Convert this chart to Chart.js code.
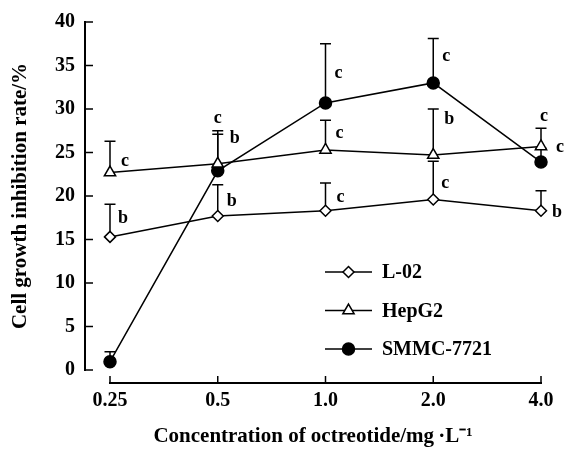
<!DOCTYPE html>
<html><head><meta charset="utf-8">
<script src="https://cdn.jsdelivr.net/npm/chart.js@4.4.0/dist/chart.umd.min.js"></script>
<style>html,body{margin:0;padding:0;background:#fff}#wrap{width:564px;height:450px}</style>
</head><body><div id="wrap"><canvas id="c" width="564" height="450"></canvas></div>
<script>
// ---- data ----
const categories = ['0.25', '0.5', '1.0', '2.0', '4.0'];
const seriesNames = ['L-02', 'HepG2', 'SMMC-7721'];
const l02Values = [15.3, 17.7, 18.3, 19.6, 18.3];
const l02ErrTop = [19.05, 21.3, 21.5, 24.0, 20.6];
const hepg2Values = [22.7, 23.7, 25.3, 24.7, 25.7];
const hepg2ErrTop = [26.3, 27.5, 28.7, 30.0, 27.8];
const smmcValues = [0.95, 22.9, 30.7, 33.0, 23.9];
const smmcErrTop = [2.1, 27.1, 37.5, 38.1, 25.5];
const l02Letters = ['b', 'b', 'c', 'c', 'b'];
const hepg2Letters = ['c', 'c', 'c', 'b', 'c'];
const smmcLetters = ['', 'b', 'c', 'c', 'c'];
const yTickValues = [0, 5, 10, 15, 20, 25, 30, 35, 40];
const xTitle = 'Concentration of octreotide/mg\u2009\u00B7L\u207B\u00B9';
const yTitle = 'Cell growth inhibition rate/%';

// ---- annotation placement (pixel dx, y in data units) ----
const l02LetterPos = [[13, 17.4], [14, 19.4], [15, 19.8], [12, 21.5], [16, 18.1]];
const hepg2LetterPos = [[15, 24.0], [0, 28.9], [14, 27.2], [16, 28.8], [19, 25.6]];
const smmcLetterPos = [null, [17, 26.6], [13, 34.1], [13, 36.0], [3, 29.1]];

const FONT = 'Liberation Serif';
const toPts = arr => arr.map((v, i) => ({x: i, y: v}));

const datasets = [
  {label: seriesNames[0], data: toPts(l02Values), errTop: l02ErrTop, letters: l02Letters, letterPos: l02LetterPos,
   pointStyle: 'rectRot', pointRadius: 5.5, backgroundColor: '#fff', pointBackgroundColor: '#fff'},
  {label: seriesNames[1], data: toPts(hepg2Values), errTop: hepg2ErrTop, letters: hepg2Letters, letterPos: hepg2LetterPos,
   pointStyle: 'triangle', pointRadius: 6.5, backgroundColor: '#fff', pointBackgroundColor: '#fff'},
  {label: seriesNames[2], data: toPts(smmcValues), errTop: smmcErrTop, letters: smmcLetters, letterPos: smmcLetterPos,
   pointStyle: 'circle', pointRadius: 6, backgroundColor: '#000', pointBackgroundColor: '#000'}
].map(d => Object.assign({
  borderColor: '#000', borderWidth: 1.5, pointBorderColor: '#000', pointBorderWidth: 1.5,
  pointHoverRadius: 6, tension: 0, fill: false, clip: false
}, d));

const errorPlugin = {
  id: 'errs',
  beforeDatasetsDraw(chart) {
    const {ctx, scales: {x, y}} = chart;
    ctx.save();
    ctx.strokeStyle = '#000'; ctx.lineWidth = 1.5;
    chart.data.datasets.forEach(ds => {
      ds.errTop.forEach((t, i) => {
        if (t == null) return;
        const px = x.getPixelForValue(i);
        const p0 = y.getPixelForValue(ds.data[i].y);
        const p1 = y.getPixelForValue(t);
        ctx.beginPath();
        ctx.moveTo(px, p0); ctx.lineTo(px, p1);
        ctx.moveTo(px - 5.5, p1); ctx.lineTo(px + 5.5, p1);
        ctx.stroke();
      });
    });
    ctx.restore();
  }
};

const axesPlugin = {
  id: 'axesDraw',
  beforeDatasetsDraw(chart) {
    const {ctx, chartArea, scales: {x, y}} = chart;
    ctx.save();
    ctx.strokeStyle = '#000';
    ctx.lineWidth = 2;
    const yl = chartArea.left;
    const yTop = y.getPixelForValue(yTickValues[yTickValues.length - 1]);
    const yBot = y.getPixelForValue(yTickValues[0]);
    ctx.beginPath(); ctx.moveTo(yl, yTop - 1); ctx.lineTo(yl, yBot + 1); ctx.stroke();
    ctx.lineWidth = 1.5;
    yTickValues.forEach(v => {
      const py = y.getPixelForValue(v);
      ctx.beginPath(); ctx.moveTo(yl, py); ctx.lineTo(yl + 8, py); ctx.stroke();
    });
    const y0 = chartArea.bottom + 13;
    const x0 = x.getPixelForValue(0), x1 = x.getPixelForValue(categories.length - 1);
    ctx.lineWidth = 2;
    ctx.beginPath(); ctx.moveTo(x0 - 1, y0); ctx.lineTo(x1 + 1, y0); ctx.stroke();
    ctx.lineWidth = 1.5;
    categories.forEach((c, i) => {
      const px = x.getPixelForValue(i);
      ctx.beginPath(); ctx.moveTo(px, y0); ctx.lineTo(px, y0 - 7); ctx.stroke();
    });
    ctx.restore();
  },
  afterDatasetsDraw(chart) {
    const {ctx, chartArea, scales: {x, y}} = chart;
    ctx.save();
    ctx.fillStyle = '#000';
    ctx.textAlign = 'center';
    ctx.textBaseline = 'middle';
    ctx.font = 'bold 18px "' + FONT + '"';
    chart.data.datasets.forEach(ds => {
      ds.letters.forEach((L, i) => {
        const pos = ds.letterPos[i];
        if (!L || !pos) return;
        ctx.fillText(L, x.getPixelForValue(i) + pos[0], y.getPixelForValue(pos[1]));
      });
    });
    const lx0 = chartArea.left + 240, lx1 = lx0 + 47, mx = (lx0 + lx1) / 2;
    const ly0 = chartArea.top + 250;
    ctx.textAlign = 'left';
    ctx.font = 'bold 20px "' + FONT + '"';
    chart.data.datasets.forEach((ds, k) => {
      const ly = ly0 + k * 38.5;
      ctx.strokeStyle = '#000'; ctx.lineWidth = 1.5;
      ctx.beginPath(); ctx.moveTo(lx0, ly); ctx.lineTo(lx1, ly); ctx.stroke();
      ctx.fillStyle = ds.pointBackgroundColor;
      Chart.helpers.drawPoint(ctx, {pointStyle: ds.pointStyle, radius: ds.pointRadius, borderWidth: 1.5, rotation: 0}, mx, ly);
      ctx.fillStyle = '#000';
      ctx.fillText(ds.label, lx1 + 10, ly + 1);
    });
    ctx.restore();
  }
};

new Chart(document.getElementById('c'), {
  type: 'line',
  data: {datasets},
  plugins: [errorPlugin, axesPlugin],
  options: {
    responsive: false,
    devicePixelRatio: 1,
    animation: false,
    layout: {padding: {top: 20, right: 23, left: 0, bottom: 0}},
    plugins: {legend: {display: false}, tooltip: {enabled: false}},
    scales: {
      x: {
        type: 'linear',
        min: -0.232, max: categories.length - 1,
        afterBuildTicks: s => { s.ticks = categories.map((c, i) => ({value: i})); },
        afterFit: s => { s.height = 80; s.paddingLeft = 0; s.paddingRight = 0; },
        grid: {display: false, drawTicks: false},
        border: {display: false},
        ticks: {
          padding: 19, color: '#000', autoSkip: false, maxRotation: 0,
          font: {family: FONT, size: 20, weight: 'bold'},
          callback: v => categories[v]
        },
        title: {display: true, text: xTitle, color: '#000', padding: {top: 0, bottom: 1},
                font: {family: FONT, size: 21, weight: 'bold'}}
      },
      y: {
        type: 'linear', min: 0, max: 40,
        afterBuildTicks: s => { s.ticks = yTickValues.map(v => ({value: v})); },
        afterFit: s => { s.width = 85; },
        grid: {display: false, drawTicks: false},
        border: {display: false},
        ticks: {padding: 10, color: '#000', font: {family: FONT, size: 20, weight: 'bold'}},
        title: {display: true, text: yTitle, color: '#000', padding: {top: 8, bottom: 0},
                font: {family: FONT, size: 21, weight: 'bold'}}
      }
    }
  }
});
</script>
</body></html>
